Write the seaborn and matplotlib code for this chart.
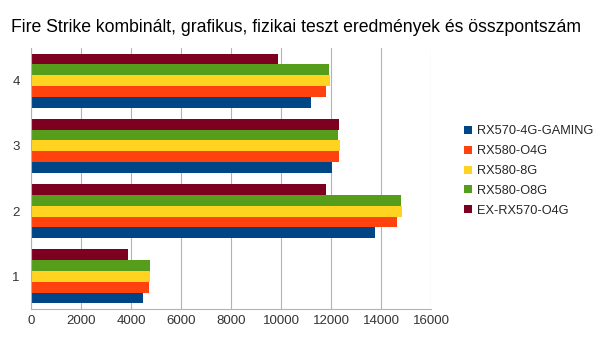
import matplotlib
matplotlib.use("Agg")
import matplotlib.pyplot as plt
import seaborn as sns
import pandas as pd
from matplotlib.lines import Line2D

categories = ["1", "2", "3", "4"]
series_names = ["RX570-4G-GAMING", "RX580-O4G", "RX580-8G", "RX580-O8G", "EX-RX570-O4G"]
rx570_4g_gaming = [4470, 13760, 12030, 11190]
rx580_o4g = [4710, 14630, 12320, 11810]
rx580_8g = [4750, 14830, 12350, 11950]
rx580_o8g = [4750, 14810, 12290, 11920]
ex_rx570_o4g = [3890, 11810, 12310, 9870]
colors = ["#004586", "#ff420e", "#ffd320", "#579d1c", "#7e0021"]
title = "Fire Strike kombinált, grafikus, fizikai teszt eredmények és összpontszám"

values = [rx570_4g_gaming, rx580_o4g, rx580_8g, rx580_o8g, ex_rx570_o4g]
rows = []
for name, vals in zip(series_names, values):
    for c, v in zip(categories, vals):
        rows.append({"cat": c, "series": name, "value": v})
df = pd.DataFrame(rows)

sns.set_style("white")
plt.rcParams["font.family"] = ["Liberation Sans", "DejaVu Sans"]

fig = plt.figure(figsize=(6.05, 3.4), dpi=100)
ax = fig.add_axes([31 / 605, 1 - 309 / 340, 400 / 605, 261 / 340])

pal = dict(zip(series_names, colors))
sns.barplot(data=df, y="cat", x="value", hue="series",
            order=categories[::-1], hue_order=series_names[::-1],
            palette=pal, orient="h", width=0.83, dodge=True,
            saturation=1, linewidth=0, errorbar=None, ax=ax, legend=False)

ax.set_xlim(0, 16000)
ax.set_xticks(range(0, 16001, 2000))
ax.grid(axis="x", color="#b3b3b3", linewidth=0.8)
ax.grid(axis="y", visible=False)
ax.set_axisbelow(True)
ax.set_xlabel("")
ax.set_ylabel("")
ax.tick_params(axis="both", labelsize=9.5, colors="#333333", length=0, pad=4)
ax.tick_params(axis="y", pad=8)
ax.set_yticks([-0.5, 0.5, 1.5, 2.5, 3.5], minor=True)
ax.tick_params(axis="y", which="minor", length=5, color="#b3b3b3", width=0.8)
for s in ["top", "right"]:
    ax.spines[s].set_visible(False)
for s in ["left", "bottom"]:
    ax.spines[s].set_color("#b3b3b3")
    ax.spines[s].set_linewidth(0.8)

fig.text(296 / 605, 1 - 28 / 340, title, ha="center", va="center", fontsize=12.7, color="#000000")

handles = [Line2D([], [], marker="s", linestyle="", markersize=6,
                  markerfacecolor=c, markeredgewidth=0) for c in colors]
fig.legend(handles, series_names, loc="center left", bbox_to_anchor=(459 / 605, 1 - 171 / 340),
           frameon=False, fontsize=9.2, handlelength=0.6, handletextpad=0.4,
           labelspacing=0.62, borderaxespad=0)

fig.savefig("out.png", dpi=100)
